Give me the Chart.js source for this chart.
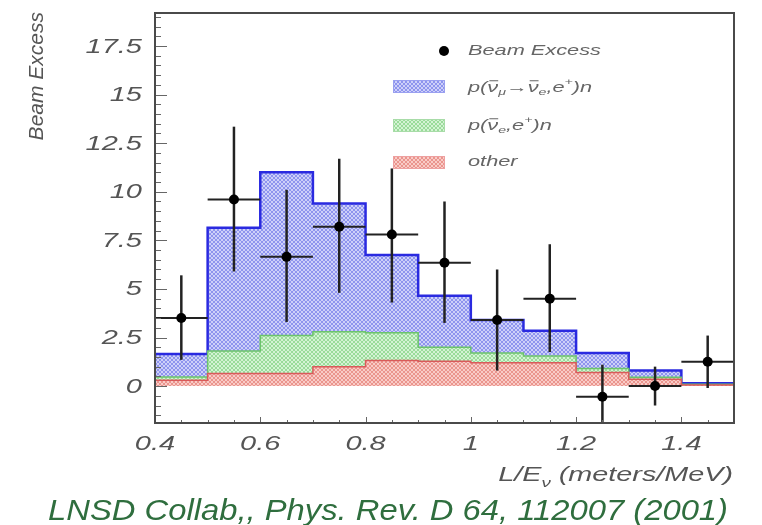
<!DOCTYPE html>
<html lang="en">
<head>
    <meta charset="UTF-8">
    <title>LNSD Beam Excess</title>
    <script src="https://cdn.jsdelivr.net/npm/chart.js"></script>
    <style>
        body { margin: 0; background: #fff; }
        canvas { display: block; }
    </style>
</head>
<body>
    <canvas id="excessChart" width="762" height="525"></canvas>

    <script>
        // bin edges in L/E (meters/MeV)
        const binEdges = [0.4, 0.5, 0.6, 0.7, 0.8, 0.9, 1.0, 1.1, 1.2, 1.3, 1.4, 1.5];
        const binCenters = [0.45, 0.55, 0.65, 0.75, 0.85, 0.95, 1.05, 1.15, 1.25, 1.35, 1.45];

        // stacked histogram tops (oscillation + nue + other, nue + other, other)
        const totalPred = [1.65, 8.15, 11.0, 9.4, 6.75, 4.65, 3.4, 2.85, 1.7, 0.8, 0.15];
        const nuePlusOther = [0.47, 1.8, 2.6, 2.8, 2.75, 2.0, 1.7, 1.55, 0.9, 0.45, 0.1];
        const otherBkg = [0.3, 0.65, 0.65, 1.0, 1.32, 1.28, 1.2, 1.2, 0.7, 0.35, 0.05];

        // data points with error bars
        const beamExcess = [3.5, 9.6, 6.65, 8.2, 7.8, 6.35, 3.4, 4.5, -0.55, 0.0, 1.25];
        const errLow = [1.35, 5.9, 3.3, 4.8, 4.3, 3.25, 0.8, 1.75, -2.5, -1.0, -0.1];
        const errHigh = [5.7, 13.35, 10.1, 11.7, 11.2, 9.5, 6.0, 7.3, 1.1, 1.0, 2.6];

        const yTicks = [0, 2.5, 5, 7.5, 10, 12.5, 15, 17.5];
        const yTickLabels = ['0', '2.5', '5', '7.5', '10', '12.5', '15', '17.5'];
        const xTicks = [0.4, 0.6, 0.8, 1.0, 1.2, 1.4];
        const xTickLabels = ['0.4', '0.6', '0.8', '1', '1.2', '1.4'];

        const FONT = "'Liberation Sans', Arial, sans-serif";

        const canvas = document.getElementById('excessChart');
        const ctx = canvas.getContext('2d');

        function hatch(light, dark) {
            const c = document.createElement('canvas');
            c.width = 4;
            c.height = 4;
            const g = c.getContext('2d');
            g.fillStyle = light;
            g.fillRect(0, 0, 4, 4);
            g.fillStyle = dark;
            for (let i = 0; i < 4; i++) {
                g.fillRect(i, i, 1, 1);
                g.fillRect(3 - i, i, 1, 1);
            }
            return ctx.createPattern(c, 'repeat');
        }

        const blueHatch = hatch('#cdd0f9', '#8e94ee');
        const greenHatch = hatch('#d4f3d4', '#9adb9a');
        const redHatch = hatch('#f9cbc7', '#ea958d');

        function stepData(vals) {
            return binEdges.map((x, i) => ({ x: x, y: vals[Math.min(i, vals.length - 1)] }));
        }

        // text squeezed into the wide look of the original picture
        function stretchText(c, text, x, y, align, sx) {
            c.save();
            c.translate(x, y);
            c.scale(sx, 1);
            c.textAlign = align;
            c.fillText(text, 0, 0);
            c.restore();
        }

        // segments: [text, 0 normal | 1 subscript | -1 superscript | 2 barred]
        function richText(c, segs, x, y, size, sx) {
            let cx = x;
            segs.forEach(([t, mode]) => {
                const s = (mode === 1 || mode === -1) ? size * 0.65 : size;
                const dy = mode === 1 ? size * 0.3 : (mode === -1 ? -size * 0.38 : 0);
                c.font = `italic ${s}px ${FONT}`;
                stretchText(c, t, cx, y + dy, 'left', sx);
                const w = c.measureText(t).width * sx;
                if (mode === 2) {
                    c.save();
                    c.strokeStyle = c.fillStyle;
                    c.lineWidth = 1;
                    c.beginPath();
                    c.moveTo(cx + 2, y - size * 0.5);
                    c.lineTo(cx + w, y - size * 0.5);
                    c.stroke();
                    c.restore();
                }
                cx += w;
            });
            return cx - x;
        }

        function richWidth(c, segs, size, sx) {
            let w = 0;
            segs.forEach(([t, mode]) => {
                const s = (mode === 1 || mode === -1) ? size * 0.65 : size;
                c.font = `italic ${s}px ${FONT}`;
                w += c.measureText(t).width * sx;
            });
            return w;
        }

        const errorBarPlugin = {
            id: 'errorBars',
            beforeDatasetDraw(chart, args) {
                if (args.index !== 0) return;
                const c = chart.ctx;
                const xs = chart.scales.x, ys = chart.scales.y;
                const area = chart.chartArea;
                c.save();
                c.beginPath();
                c.rect(area.left, area.top, area.right - area.left, area.bottom - area.top);
                c.clip();
                c.strokeStyle = '#222';
                binCenters.forEach((x, i) => {
                    const px = xs.getPixelForValue(x);
                    const py = ys.getPixelForValue(beamExcess[i]);
                    c.lineWidth = 2.5;
                    c.beginPath();
                    c.moveTo(px, ys.getPixelForValue(errLow[i]));
                    c.lineTo(px, ys.getPixelForValue(errHigh[i]));
                    c.stroke();
                    c.lineWidth = 2;
                    c.beginPath();
                    c.moveTo(xs.getPixelForValue(x - 0.05), py);
                    c.lineTo(xs.getPixelForValue(x + 0.05), py);
                    c.stroke();
                });
                c.restore();
            }
        };

        const framePlugin = {
            id: 'frame',
            afterDraw(chart) {
                const c = chart.ctx;
                const xs = chart.scales.x, ys = chart.scales.y;
                const a = chart.chartArea;
                c.save();

                // minor / major ticks inside the frame
                c.strokeStyle = '#666';
                c.lineWidth = 1;
                c.beginPath();
                for (let v = -1.5; v <= 19.01; v += 0.5) {
                    const py = Math.round(ys.getPixelForValue(v)) + 0.5;
                    const major = yTicks.some(t => Math.abs(t - v) < 1e-6);
                    c.moveTo(a.left, py);
                    c.lineTo(a.left + (major ? 12 : 6), py);
                }
                for (let v = 0.45; v <= 1.451; v += 0.05) {
                    const px = Math.round(xs.getPixelForValue(v)) + 0.5;
                    const major = xTicks.some(t => Math.abs(t - v) < 1e-6);
                    c.moveTo(px, a.bottom);
                    c.lineTo(px, a.bottom - (major ? 6 : 3));
                }
                c.stroke();

                // frame
                c.strokeStyle = '#4a4a4a';
                c.lineWidth = 2;
                c.strokeRect(a.left, a.top, a.right - a.left, a.bottom - a.top);

                // tick labels
                c.fillStyle = '#555';
                c.textBaseline = 'middle';
                c.font = `italic 20px ${FONT}`;
                yTicks.forEach((v, i) => {
                    stretchText(c, yTickLabels[i], 142, ys.getPixelForValue(v) + 1, 'right', 1.45);
                });
                xTicks.forEach((v, i) => {
                    stretchText(c, xTickLabels[i], xs.getPixelForValue(v), 444, 'center', 1.45);
                });

                // axis titles
                c.textBaseline = 'alphabetic';
                c.fillStyle = '#555';
                c.save();
                c.translate(43, 12);
                c.rotate(-Math.PI / 2);
                c.font = `italic 21px ${FONT}`;
                c.textAlign = 'right';
                c.fillText('Beam Excess', 0, 0);
                c.restore();

                const xTitle = [['L/E', 0], ['\u03bd', 1], [' (meters/MeV)', 0]];
                const w = richWidth(c, xTitle, 21, 1.37);
                richText(c, xTitle, 733 - w, 481, 21, 1.37);

                // legend
                c.fillStyle = '#000';
                c.beginPath();
                c.arc(444, 51, 5, 0, Math.PI * 2);
                c.fill();
                const swatches = [[blueHatch, '#9aa0f0', 80], [greenHatch, '#a8dca8', 119], [redHatch, '#eea0a0', 156]];
                swatches.forEach(([pat, edge, top]) => {
                    c.fillStyle = pat;
                    c.fillRect(393, top, 52, 13);
                    c.strokeStyle = edge;
                    c.lineWidth = 1;
                    c.strokeRect(393.5, top + 0.5, 51, 12);
                });
                c.fillStyle = '#666';
                c.textBaseline = 'middle';
                const LS = 14.5, LX = 1.5;
                richText(c, [['Beam Excess', 0]], 468, 51, LS, LX);
                richText(c, [['p(', 0], ['\u03bd', 2], ['\u03bc', 1], ['\u2192', 0], ['\u03bd', 2], ['e', 1], [',e', 0], ['+', -1], [')n', 0]], 468, 88, LS, LX);
                richText(c, [['p(', 0], ['\u03bd', 2], ['e', 1], [',e', 0], ['+', -1], [')n', 0]], 468, 126, LS, LX);
                richText(c, [['other', 0]], 468, 162, LS, LX);

                // caption
                c.textBaseline = 'alphabetic';
                c.fillStyle = '#2f6e3e';
                c.font = `italic 29px ${FONT}`;
                stretchText(c, 'LNSD Collab,, Phys. Rev. D 64, 112007 (2001)', 388, 520, 'center', 1.13);

                c.restore();
            }
        };

        new Chart(ctx, {
            type: 'line',
            data: {
                datasets: [
                    {
                        type: 'scatter',
                        label: 'Beam Excess',
                        data: binCenters.map((x, i) => ({ x: x, y: beamExcess[i] })),
                        pointRadius: 5,
                        pointBackgroundColor: '#000',
                        pointBorderWidth: 0,
                        showLine: false
                    },
                    {
                        label: 'other',
                        data: stepData(otherBkg),
                        stepped: true,
                        fill: 'origin',
                        backgroundColor: redHatch,
                        borderColor: '#d95a5a',
                        borderWidth: 1.5,
                        pointRadius: 0
                    },
                    {
                        label: 'nue',
                        data: stepData(nuePlusOther),
                        stepped: true,
                        fill: 'origin',
                        backgroundColor: greenHatch,
                        borderColor: '#6cc46c',
                        borderWidth: 1.5,
                        pointRadius: 0
                    },
                    {
                        label: 'oscillation',
                        data: stepData(totalPred),
                        stepped: true,
                        fill: 'origin',
                        backgroundColor: blueHatch,
                        borderColor: '#2a2ae0',
                        borderWidth: 2.5,
                        pointRadius: 0
                    }
                ]
            },
            options: {
                responsive: false,
                animation: false,
                devicePixelRatio: 1,
                layout: { padding: { left: 0, top: 13, right: 28, bottom: 0 } },
                plugins: {
                    legend: { display: false },
                    tooltip: { enabled: false }
                },
                scales: {
                    x: {
                        type: 'linear',
                        min: 0.4,
                        max: 1.5,
                        grid: { display: false },
                        border: { display: false },
                        ticks: { display: false },
                        afterBuildTicks: s => { s.ticks = xTicks.map(v => ({ value: v })); },
                        afterFit: s => { s.height = 102; }
                    },
                    y: {
                        type: 'linear',
                        min: -1.9,
                        max: 19.2,
                        grid: { display: false },
                        border: { display: false },
                        ticks: { display: false },
                        afterBuildTicks: s => { s.ticks = yTicks.map(v => ({ value: v })); },
                        afterFit: s => { s.width = 155; }
                    }
                }
            },
            plugins: [errorBarPlugin, framePlugin]
        });
    </script>
</body>
</html>
